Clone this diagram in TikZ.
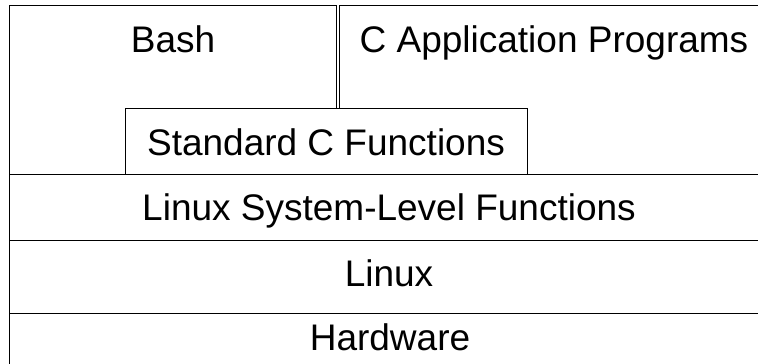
\documentclass[tikz,border=0pt]{standalone}
\usepackage{fontspec}
\setmainfont{Liberation Sans}
\begin{document}
\begin{tikzpicture}[x=1pt,y=-1pt,line width=1pt,
    layer/.style={font=\fontsize{37}{41}\selectfont,inner sep=0pt,anchor=base}]
    \useasboundingbox (0,0) rectangle (758,364);
    \clip (0,0) rectangle (758,364);

    % Upper layer
    \draw (9,5) rectangle (336,174);
    \draw (339,5) rectangle (765,174);
    \draw[fill=white] (125,108) rectangle (527,174);
    \node[layer] (bash) at (173,52) {Bash};
    \node[layer] (capps) at (554,52) {C Application Programs};
    \node[layer] (stdc) at (326,155) {Standard C Functions};

    % Lower layers
    \draw (9,174) rectangle (765,240);
    \draw (9,240) rectangle (765,313);
    \draw (9,313) rectangle (765,370);
    \node[layer] (sysfn) at (389,220) {Linux System-Level Functions};
    \node[layer] (linux) at (389,286) {Linux};
    \node[layer] (hw) at (390,350) {Hardware};
\end{tikzpicture}
\end{document}
